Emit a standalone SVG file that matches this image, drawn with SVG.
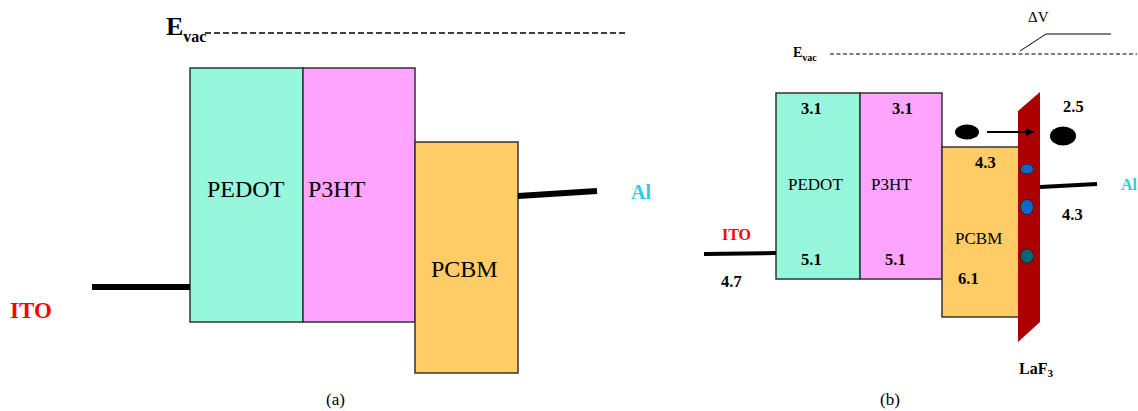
<svg xmlns="http://www.w3.org/2000/svg" width="1138" height="411" viewBox="0 0 1138 411" font-family="'Liberation Serif', 'Times New Roman', 'DejaVu Serif', serif">
<style>
  text, tspan { font-family: "Liberation Serif", "Times New Roman", "DejaVu Serif", serif; fill: #000; }
  .b { font-weight: bold; }
  .layer { stroke: #333; stroke-width: 1.5; }
  .pedot { fill: #96F7DC; }
  .p3ht { fill: #FFA5FF; }
  .pcbm { fill: #FFCC66; }
  .lblA { font-size: 24px; }
  .lblB { font-size: 17px; }
  .num { font-size: 16.5px; font-weight: bold; }
  .ito { fill: #FF0000; font-weight: bold; }
  .al { fill: #33CCDD; font-weight: bold; }
  .elec { stroke: #000; fill: none; }
  .vac { stroke: #000; fill: none; }
</style>
<defs>
  <marker id="arr" viewBox="0 0 10 10" refX="10" refY="5" markerWidth="8" markerHeight="8" markerUnits="userSpaceOnUse" orient="auto">
    <path d="M0,0 L10,5 L0,10 z" fill="#000"/>
  </marker>
</defs>
<rect width="1138" height="411" fill="#fff"/>

<!-- Panel (a) -->
<g id="a-evac">
  <text class="b" x="166" y="35" font-size="26">E<tspan font-size="16" dy="7">vac</tspan></text>
  <line class="vac" x1="205" y1="33" x2="627" y2="33" stroke-width="1.5" stroke-dasharray="6 3"/>
</g>
<g id="a-pedot">
  <rect class="layer pedot" x="190" y="68" width="113" height="254"/>
  <text class="lblA" x="207" y="197">PEDOT</text>
</g>
<g id="a-p3ht">
  <rect class="layer p3ht" x="303" y="68" width="112" height="254"/>
  <text class="lblA" x="308" y="197">P3HT</text>
</g>
<g id="a-pcbm">
  <rect class="layer pcbm" x="415" y="142" width="103" height="231"/>
  <text class="lblA" x="431" y="277">PCBM</text>
</g>
<g id="a-ito">
  <text class="ito" x="10" y="318" font-size="23">ITO</text>
</g>
<g id="a-al">
  <text class="al" x="631" y="199" font-size="20">Al</text>
</g>
<g id="a-connectors">
  <line class="elec" x1="92" y1="287" x2="190" y2="287" stroke-width="6"/>
  <line class="elec" x1="518" y1="196" x2="597" y2="191" stroke-width="6"/>
</g>
<text x="326" y="405" font-size="17">(a)</text>

<!-- Panel (b) -->
<g id="b-evac">
  <text class="b" x="793" y="57" font-size="14">E<tspan font-size="10" dy="4">vac</tspan></text>
  <line class="vac" x1="830" y1="54" x2="1137" y2="54" stroke-width="1" stroke-dasharray="4 2.5"/>
</g>
<g id="b-dv">
  <text x="1028" y="22" font-size="15">ΔV</text>
  <polyline class="vac" points="1020,51 1046,34 1111,34" stroke-width="1"/>
</g>
<g id="b-pedot">
  <rect class="layer pedot" x="776" y="93" width="84" height="186"/>
  <text class="lblB" x="788" y="190">PEDOT</text>
  <text class="num" x="801" y="114">3.1</text>
  <text class="num" x="801" y="265">5.1</text>
</g>
<g id="b-p3ht">
  <rect class="layer p3ht" x="860" y="93" width="82" height="186"/>
  <text class="lblB" x="871" y="190">P3HT</text>
  <text class="num" x="892" y="114">3.1</text>
  <text class="num" x="885" y="265">5.1</text>
</g>
<g id="b-pcbm">
  <rect class="layer pcbm" x="942" y="147" width="77" height="170"/>
  <text class="lblB" x="955" y="244">PCBM</text>
  <text class="num" x="975" y="168">4.3</text>
  <text class="num" x="958" y="284">6.1</text>
</g>
<g id="b-laf3">
  <polygon points="1018,111 1040,92 1040,322 1018,342" fill="#AA0000"/>
  <ellipse cx="1027" cy="169" rx="6.5" ry="5" fill="#1166CC" stroke="#222" stroke-width="0.8"/>
  <ellipse cx="1027" cy="207" rx="6.5" ry="7.5" fill="#1166CC" stroke="#222" stroke-width="0.8"/>
  <ellipse cx="1027" cy="256" rx="6.5" ry="7" fill="#006677" stroke="#222" stroke-width="0.8"/>
  <text class="b" x="1019" y="374" font-size="16">LaF<tspan font-size="11" dy="3">3</tspan></text>
</g>
<g id="b-electrons">
  <ellipse cx="967" cy="132" rx="12" ry="7.5" fill="#000"/>
  <ellipse cx="1063" cy="136" rx="13" ry="9.5" fill="#000"/>
  <text class="num" x="1063" y="112">2.5</text>
</g>
<g id="b-ito">
  <text class="ito" x="722" y="240" font-size="16">ITO</text>
  <text class="num" x="721" y="287">4.7</text>
</g>
<g id="b-al">
  <text class="al" x="1121" y="190" font-size="16">Al</text>
  <text class="num" x="1062" y="220">4.3</text>
</g>
<g id="b-connectors">
  <line class="elec" x1="704" y1="254" x2="776" y2="253" stroke-width="4"/>
  <line class="elec" x1="1040" y1="187" x2="1097" y2="184" stroke-width="4"/>
  <line class="elec" x1="987" y1="132" x2="1034" y2="132" stroke-width="2" marker-end="url(#arr)"/>
</g>
<text x="880" y="405" font-size="17">(b)</text>
</svg>
